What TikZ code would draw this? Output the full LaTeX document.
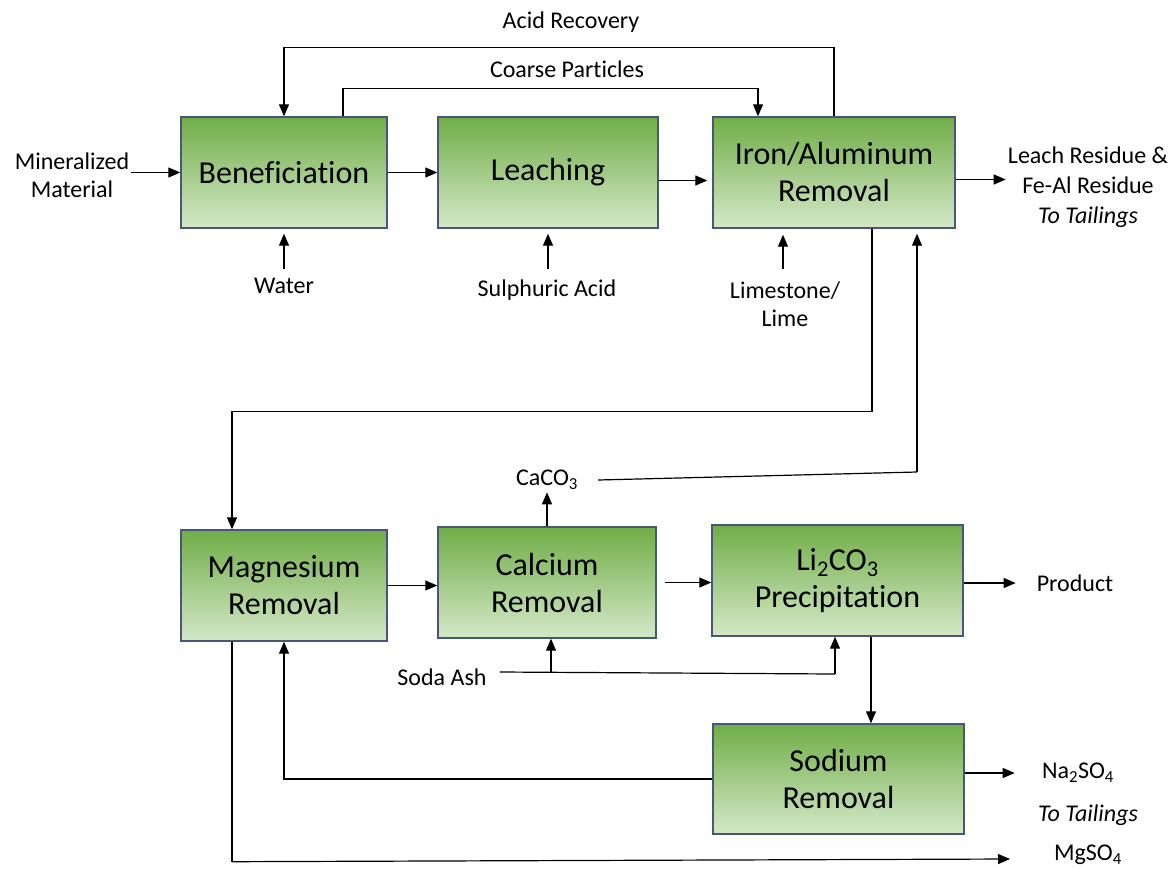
\documentclass[tikz,border=0pt]{standalone}
\usepackage{fontspec}
\setmainfont[Ligatures=NoCommon,RawFeature=-liga]{Carlito}
\usetikzlibrary{arrows.meta,calc}
\definecolor{boxtop}{HTML}{70AD47}
\definecolor{boxbot}{HTML}{D4E8C8}
\definecolor{boxline}{HTML}{4A5675}
\tikzset{
  procbox/.style={draw=boxline, line width=1.4pt, top color=boxtop, bottom color=boxbot,
    align=center, inner sep=0pt, font=\fontsize{32}{37}\selectfont},
  lbl/.style={align=center, inner sep=2pt, font=\fontsize{24}{28.5}\selectfont},
  arr/.style={line width=1.2pt, -{Triangle[length=12pt,width=10pt]}},
  ln/.style={line width=1.2pt}
}
\begin{document}
\begin{tikzpicture}[x=1pt,y=-1pt]
\useasboundingbox (0,0) rectangle (1173,868);
% boxes
\node[procbox, minimum width=206pt, minimum height=111pt] (benef) at (284,172.5) {Beneficiation};
\node[procbox, minimum width=220pt, minimum height=111pt] (leach) at (548,172.5) {Leaching};
\node[procbox, minimum width=242pt, minimum height=111pt] (iron) at (834,172.5) {Iron/Aluminum\\Removal};
\node[procbox, minimum width=206pt, minimum height=111pt] (mg) at (284,585.5) {Magnesium\\Removal};
\node[procbox, minimum width=218pt, minimum height=111pt] (ca) at (547,582.5) {Calcium\\Removal};
\node[procbox, minimum width=251pt, minimum height=111pt] (li) at (837.5,580.5) {Li\textsubscript{2}CO\textsubscript{3}\\Precipitation};
\node[procbox, minimum width=251pt, minimum height=110pt] (na) at (838.5,779) {Sodium\\Removal};
% labels
\node[lbl] (mineral) at (72,175.5) {Mineralized\\Material};
\node[lbl] (water) at (284,286) {Water};
\node[lbl] (sulph) at (547,290) {Sulphuric Acid};
\node[lbl] (lime) at (785,304) {Limestone/\\Lime};
\node[lbl, font=\fontsize{24}{30}\selectfont] (residue) at (1088,187) {Leach Residue \&\\Fe-Al Residue\\\textit{To Tailings}};
\node[lbl] (acidrec) at (571,22) {Acid Recovery};
\node[lbl] (coarse) at (567,69) {Coarse Particles};
\node[lbl] (caco3) at (547,480) {CaCO\textsubscript{3}};
\node[lbl] (product) at (1075,583) {Product};
\node[lbl] (soda) at (442,677) {Soda Ash};
\node[lbl] (na2so4) at (1078,773) {Na\textsubscript{2}SO\textsubscript{4}};
\node[lbl] (tail2) at (1088,815) {\textit{To Tailings}};
\node[lbl] (mgso4) at (1088,855) {MgSO\textsubscript{4}};
% junction coordinates
\coordinate (cj) at (917,472);
\coordinate (sj) at (835,674);
\coordinate (sb) at (551,672.5);
\coordinate (mj) at (1010,859);
% top row flows
\draw[arr] (mineral.east |- benef.west) -- (benef.west);
\draw[arr] (benef.east) -- (leach.west);
\draw[arr] ([yshift=-8pt]leach.east) -- ([yshift=-8pt,xshift=-5pt]iron.west);
\draw[arr] ([yshift=-7pt]iron.east) -- ++(50,0);
\draw[arr] ([yshift=-40pt]benef.south) -- ([yshift=-5pt]benef.south);
\draw[arr] ([yshift=-40pt]leach.south) -- ([yshift=-5pt]leach.south);
\draw[arr] ([xshift=-51pt,yshift=-40pt]iron.south) -- ([xshift=-51pt,yshift=-6pt]iron.south);
% recycles
\draw[arr] (iron.north) -- ++(0,-69) -| (benef.north);
\draw[arr] ([xshift=59pt]benef.north) -- ++(0,-28) -| ([xshift=-76pt]iron.north);
% iron to magnesium
\draw[arr] ([xshift=38pt]iron.south) -- ++(0,183) -| ([xshift=-52pt]mg.north);
% CaCO3 recycle
\draw[arr] (ca.north) -- ++(0,-34);
\draw[ln] ([xshift=18pt]caco3.east) -- (cj);
\draw[arr] (cj) -- ([xshift=83pt,yshift=-5pt]iron.south);
% bottom row flows
\draw[arr] (mg.east) -- (mg.east -| ca.west);
\draw[arr] ([xshift=8pt]ca.east) -- (ca.east -| li.west);
\draw[arr] ([yshift=-2.5pt]li.east) -- ++(52,0);
% soda ash
\draw[ln] ([xshift=11pt,yshift=5pt]soda.east) -- (sj);
\draw[arr] (sj) -- (sj |- li.south);
\draw[arr] (sb) -- (sb |- ca.south);
% Li to sodium
\draw[arr] ([xshift=33.5pt]li.south) -- ([xshift=33.5pt]li.south |- na.north);
% sodium outputs
\draw[arr] (na.west) -| (mg.south);
\draw[arr] ([yshift=6pt]na.east) -- ++(50,0);
% MgSO4
\draw[ln] ([xshift=-52pt]mg.south) -- ++(0,220) coordinate (mb);
\draw[arr] (mb) -- (mj);
\end{tikzpicture}
\end{document}
